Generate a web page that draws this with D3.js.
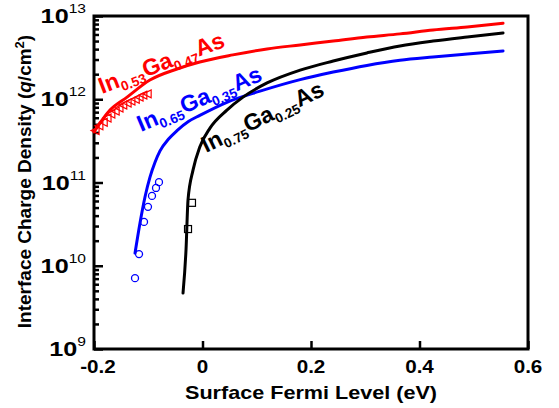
<!DOCTYPE html>
<html>
<head>
<meta charset="utf-8">
<script src="https://cdn.jsdelivr.net/npm/d3@7"></script>
<style>
  html, body { margin: 0; padding: 0; background: #fff; }
  text { font-family: "Liberation Sans", Arial, sans-serif; font-weight: bold; }
</style>
</head>
<body>
<svg id="chart" width="559" height="408"></svg>
<script>
// ---- data ----
const xTicks = [-0.2, 0, 0.2, 0.4, 0.6];
const xTickLabels = ["-0.2", "0", "0.2", "0.4", "0.6"];
const yTicks = [1e9, 1e10, 1e11, 1e12, 1e13];
const yTickExponents = ["9", "10", "11", "12", "13"];

// In0.53Ga0.47As (red line)
const redX = [-0.2, -0.1705, -0.139, -0.097, -0.047, -0.005, 0.056, 0.119, 0.18, 0.241, 0.303, 0.364, 0.425, 0.488, 0.554];
const redY = [4.05e11, 7.4e11, 1.06e12, 1.70e12, 2.31e12, 2.80e12, 3.41e12, 4.02e12, 4.49e12, 5.0e12, 5.6e12, 6.1e12, 6.8e12, 7.4e12, 8.2e12];
// In0.65Ga0.35As (blue line)
const blueX = [-0.1244, -0.1152, -0.106, -0.0968, -0.0875, -0.0783, -0.063, -0.047, -0.026, -0.005, 0.045, 0.106, 0.18, 0.241, 0.303, 0.364, 0.425, 0.488, 0.554];
const blueY = [1.42e10, 3.27e10, 6.7e10, 1.16e11, 1.75e11, 2.40e11, 3.3e11, 4.2e11, 5.4e11, 6.4e11, 9.2e11, 1.25e12, 1.72e12, 2.12e12, 2.55e12, 2.94e12, 3.22e12, 3.50e12, 3.8e12];
// In0.75Ga0.25As (black line)
const blackX = [-0.0359, -0.0304, -0.0267, -0.0175, -0.005, 0.0138, 0.045, 0.0747, 0.119, 0.18, 0.241, 0.303, 0.364, 0.425, 0.488, 0.554];
const blackY = [4.7e9, 1.55e10, 6.2e10, 1.41e11, 2.67e11, 4.5e11, 7.4e11, 1.06e12, 1.57e12, 2.24e12, 2.88e12, 3.6e12, 4.37e12, 5.0e12, 5.6e12, 6.25e12];

// measured points
const triX = [-0.198, -0.191, -0.183, -0.176, -0.169, -0.161, -0.154, -0.147, -0.139, -0.132, -0.124, -0.117, -0.110, -0.102];
const triY = [4.2e11, 4.8e11, 5.3e11, 5.96e11, 6.65e11, 7.2e11, 7.85e11, 8.5e11, 9.0e11, 9.5e11, 1.0e12, 1.06e12, 1.12e12, 1.16e12];
const circX = [-0.1244, -0.117, -0.1078, -0.1005, -0.0931, -0.0857, -0.0802];
const circY = [7.1e9, 1.38e10, 3.36e10, 5.1e10, 6.9e10, 8.6e10, 1.01e11];
const sqX = [-0.0267, -0.0194];
const sqY = [2.76e10, 5.7e10];

// curve labels: [main, sub1, mid, sub2, end]
const labelRed = ["In", "0.53", "Ga", "0.47", "As"];
const labelBlue = ["In", "0.65", "Ga", "0.35", "As"];
const labelBlack = ["In", "0.75", "Ga", "0.25", "As"];

// ---- drawing ----
const W = 559, H = 408;
const m = { left: 94, right: 31, top: 16, bottom: 59 };
const svg = d3.select("#chart");

const x = d3.scaleLinear().domain([-0.2, 0.6]).range([m.left, W - m.right]);
const y = d3.scaleLog().domain([1e9, 1e13]).range([H - m.bottom, m.top]);

const RED = "#ff0000", BLUE = "#0000ff", BLACK = "#000000";

// axes
const xAxis = d3.axisBottom(x).tickValues(xTicks).tickSize(-8).tickFormat("");
const gx = svg.append("g").attr("transform", `translate(0,${H - m.bottom})`).call(xAxis);
gx.select(".domain").remove();
gx.selectAll("line").attr("stroke", BLACK).attr("stroke-width", 2.5);

const minorTicks = [];
for (let e = 9; e < 13; e++) for (let k = 2; k <= 9; k++) minorTicks.push(k * Math.pow(10, e));
const yAxisMinor = d3.axisLeft(y).tickValues(minorTicks).tickSize(-5).tickFormat("");
const gym = svg.append("g").attr("transform", `translate(${m.left},0)`).call(yAxisMinor);
gym.select(".domain").remove();
gym.selectAll("line").attr("stroke", BLACK).attr("stroke-width", 2.5);

const yAxis = d3.axisLeft(y).tickValues(yTicks).tickSize(-9).tickFormat("");
const gy = svg.append("g").attr("transform", `translate(${m.left},0)`).call(yAxis);
gy.select(".domain").remove();
gy.selectAll("line").attr("stroke", BLACK).attr("stroke-width", 2.5);

// frame
svg.append("rect")
  .attr("x", m.left).attr("y", m.top)
  .attr("width", W - m.left - m.right).attr("height", H - m.top - m.bottom)
  .attr("fill", "none").attr("stroke", BLACK).attr("stroke-width", 3);

// x tick labels
svg.append("g").selectAll("text").data(xTicks).join("text")
  .attr("transform", d => `translate(${x(d) + (d < 0 ? 4 : 0)},${H - m.bottom + 24}) scale(1.18,1)`)
  .attr("text-anchor", "middle").attr("font-size", 17.5)
  .text((d, i) => xTickLabels[i]);

// y tick labels
const ylab = svg.append("g").selectAll("text").data(yTicks).join("text")
  .attr("transform", d => `translate(${m.left - 8},${y(d) + 7}) scale(1.2,1)`)
  .attr("text-anchor", "end").attr("font-size", 21);
ylab.append("tspan").text("10");
ylab.append("tspan").attr("dy", -10).attr("font-size", 13).attr("font-weight", "normal").text((d, i) => yTickExponents[i]);

// axis titles
svg.append("text")
  .attr("transform", `translate(${(m.left + W - m.right) / 2},${H - 9}) scale(1.2,1)`)
  .attr("text-anchor", "middle").attr("font-size", 18)
  .text("Surface Fermi Level (eV)");

const yt = svg.append("text")
  .attr("transform", `translate(31,${(m.top + H - m.bottom) / 2 - 1}) rotate(-90)`)
  .attr("text-anchor", "middle").attr("font-size", 19);
yt.append("tspan").text("Interface Charge Density (");
yt.append("tspan").attr("font-style", "italic").text("q");
yt.append("tspan").text("/cm");
yt.append("tspan").attr("dy", -7).attr("font-size", 13).text("2");
yt.append("tspan").attr("dy", 7).text(")");

// lines
const line = d3.line().x(d => x(d[0])).y(d => y(d[1])).curve(d3.curveMonotoneX);
const series = [
  { xs: redX, ys: redY, c: RED },
  { xs: blueX, ys: blueY, c: BLUE },
  { xs: blackX, ys: blackY, c: BLACK }
];
series.forEach(s => {
  svg.append("path")
    .datum(s.xs.map((v, i) => [v, s.ys[i]]))
    .attr("d", line)
    .attr("fill", "none").attr("stroke", s.c).attr("stroke-width", 3)
    .attr("stroke-linejoin", "round").attr("stroke-linecap", "round");
});

// markers
const triPath = "M-4,0 L4,-4 L4,4 Z";
svg.append("g").selectAll("path").data(triX.map((v, i) => [v, triY[i]])).join("path")
  .attr("transform", d => `translate(${x(d[0])},${y(d[1])})`)
  .attr("d", triPath).attr("fill", "none").attr("stroke", RED).attr("stroke-width", 1.2);

svg.append("g").selectAll("circle").data(circX.map((v, i) => [v, circY[i]])).join("circle")
  .attr("cx", d => x(d[0])).attr("cy", d => y(d[1])).attr("r", 3.5)
  .attr("fill", "none").attr("stroke", BLUE).attr("stroke-width", 1.3);

svg.append("g").selectAll("rect").data(sqX.map((v, i) => [v, sqY[i]])).join("rect")
  .attr("x", d => x(d[0]) - 3.5).attr("y", d => y(d[1]) - 3.5)
  .attr("width", 7).attr("height", 7)
  .attr("fill", "none").attr("stroke", BLACK).attr("stroke-width", 1.2);

// curve labels
function label(parts, px, py, angle, color) {
  const t = svg.append("text")
    .attr("transform", `translate(${px},${py}) rotate(${-angle})`)
    .attr("fill", color).attr("font-size", 23);
  t.append("tspan").text(parts[0]);
  t.append("tspan").attr("dy", 5).attr("font-size", 13.5).text(parts[1]);
  t.append("tspan").attr("dy", -5).text(parts[2]);
  t.append("tspan").attr("dy", 5).attr("font-size", 13.5).text(parts[3]);
  t.append("tspan").attr("dy", -5).text(parts[4]);
}
label(labelRed, 102, 94, 21, RED);
label(labelBlue, 141, 132, 23, BLUE);
label(labelBlack, 206, 153, 26, BLACK);
</script>
</body>
</html>
